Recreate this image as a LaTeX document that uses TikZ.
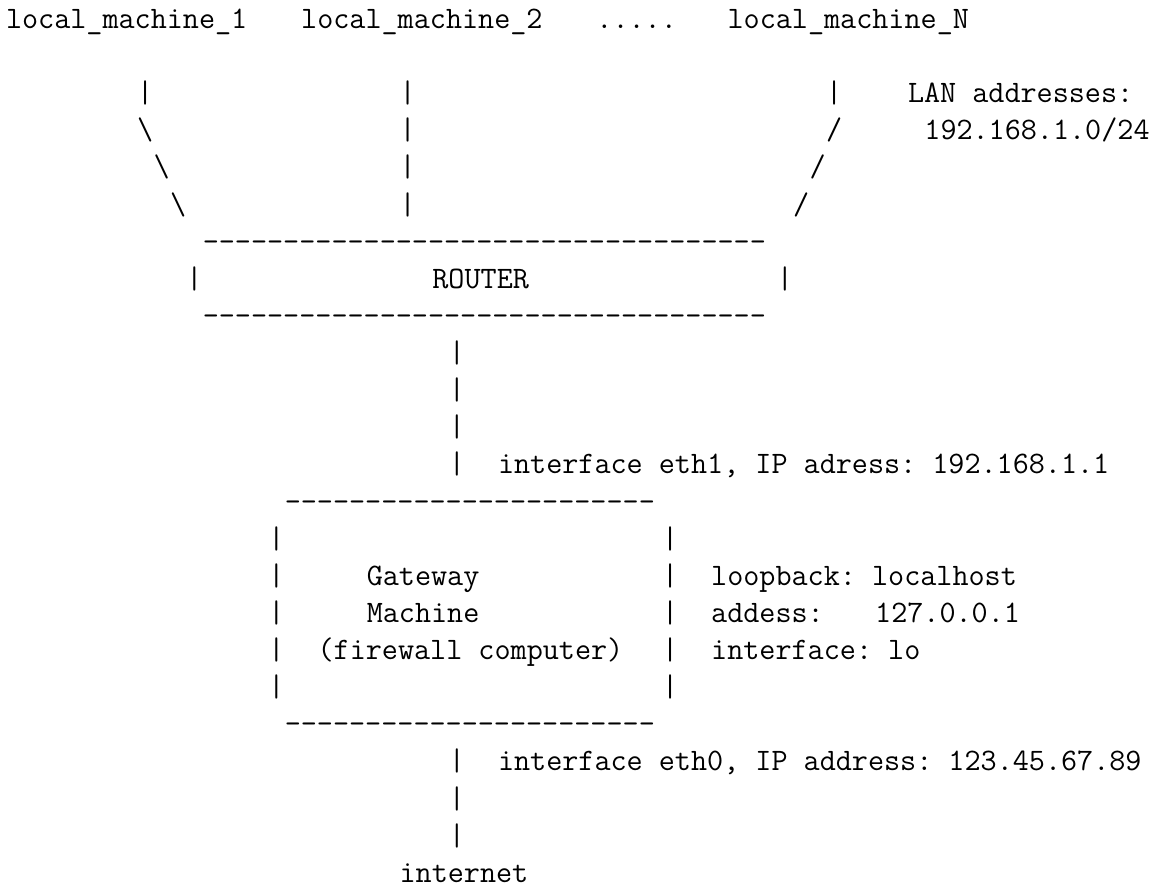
\documentclass[tikz,border=0pt]{standalone}
\usepackage{fontspec}
\setmonofont{Latin Modern Mono}
\def\asciiX{6.0}
\def\asciiW{16.4}
\def\asciiY{28.5}
\def\asciiH{37.12}
\newcommand\asciiseg[4]{\node[seg] (#1) at ({\asciiX+#2*\asciiW},{\asciiY+(#3-1)*\asciiH}) {#4};}
\begin{document}
\frenchspacing
\begin{tikzpicture}[x=0.5pt,y=-0.5pt,
  seg/.style={anchor=base west, inner sep=0pt, outer sep=0pt,
    font=\fontsize{15.62pt}{18.75pt}\selectfont\ttfamily\frenchspacing}]
\useasboundingbox (0,0) rectangle (1160,888);
% line 1
\asciiseg{m1}{0}{1}{local\_machine\_1}
\asciiseg{m2}{18}{1}{local\_machine\_2}
\asciiseg{dots}{36}{1}{.....}
\asciiseg{mN}{44}{1}{local\_machine\_N}
% line 3
\asciiseg{a3}{8}{3}{|}
\asciiseg{b3}{24}{3}{|}
\asciiseg{c3}{50}{3}{|}
\asciiseg{lan}{55}{3}{LAN addresses:}
% line 4
\asciiseg{a4}{8}{4}{\textbackslash}
\asciiseg{b4}{24}{4}{|}
\asciiseg{c4}{50}{4}{/}
\asciiseg{net}{56}{4}{192.168.1.0/24}
% line 5
\asciiseg{a5}{9}{5}{\textbackslash}
\asciiseg{b5}{24}{5}{|}
\asciiseg{c5}{49}{5}{/}
% line 6
\asciiseg{a6}{10}{6}{\textbackslash}
\asciiseg{b6}{24}{6}{|}
\asciiseg{c6}{48}{6}{/}
% router box
\asciiseg{rtop}{12}{7}{-----------------------------------}
\asciiseg{rl}{11}{8}{|}
\asciiseg{router}{26}{8}{ROUTER}
\asciiseg{rr}{47}{8}{|}
\asciiseg{rbot}{12}{9}{-----------------------------------}
% link router - gateway
\asciiseg{v10}{27}{10}{|}
\asciiseg{v11}{27}{11}{|}
\asciiseg{v12}{27}{12}{|}
\asciiseg{v13}{27}{13}{|}
\asciiseg{eth1}{30}{13}{interface eth1, IP adress: 192.168.1.1}
% gateway box
\asciiseg{gtop}{17}{14}{-----------------------}
\asciiseg{gl15}{16}{15}{|}
\asciiseg{gr15}{40}{15}{|}
\asciiseg{gl16}{16}{16}{|}
\asciiseg{gw}{22}{16}{Gateway}
\asciiseg{gr16}{40}{16}{|}
\asciiseg{lo1}{43}{16}{loopback: localhost}
\asciiseg{gl17}{16}{17}{|}
\asciiseg{gm}{22}{17}{Machine}
\asciiseg{gr17}{40}{17}{|}
\asciiseg{lo2}{43}{17}{addess:}
\asciiseg{lo2b}{53}{17}{127.0.0.1}
\asciiseg{gl18}{16}{18}{|}
\asciiseg{gf}{19}{18}{(firewall computer)}
\asciiseg{gr18}{40}{18}{|}
\asciiseg{lo3}{43}{18}{interface: lo}
\asciiseg{gl19}{16}{19}{|}
\asciiseg{gr19}{40}{19}{|}
\asciiseg{gbot}{17}{20}{-----------------------}
% link gateway - internet
\asciiseg{v21}{27}{21}{|}
\asciiseg{eth0}{30}{21}{interface eth0, IP address: 123.45.67.89}
\asciiseg{v22}{27}{22}{|}
\asciiseg{v23}{27}{23}{|}
\asciiseg{inet}{24}{24}{internet}
\end{tikzpicture}
\end{document}
